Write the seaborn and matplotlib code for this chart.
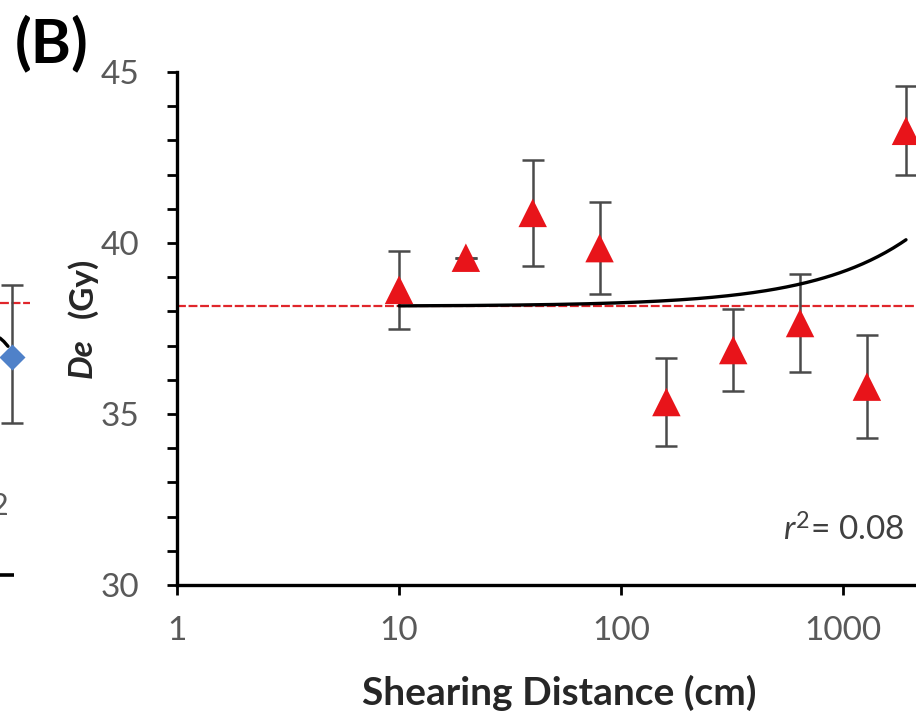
import numpy as np
import pandas as pd
import matplotlib
matplotlib.use("Agg")
import matplotlib.pyplot as plt
import seaborn as sns

# ---------------- data ----------------
distance = [10, 20, 40, 80, 160, 320, 640, 1280, 1920]          # shearing distance (cm)
de_values = [38.63, 39.57, 40.88, 39.85, 35.35, 36.87, 37.66, 35.80, 43.28]  # De (Gy)
de_err = [1.15, 0.0, 1.55, 1.35, 1.30, 1.20, 1.43, 1.50, 1.30]   # error (Gy)
given_dose = 38.15                                               # red reference line
r2_text = "0.08"
x_ticks = [1, 10, 100, 1000]
x_tick_labels = ["1", "10", "100", "1000"]
y_ticks = [30, 35, 40, 45]

# partial neighbouring panel (A) visible at the left edge
a_value = [36.67]
a_err_low = [1.93]
a_err_high = [2.10]
a_line = 38.25
a_curve_x = [0.0, 0.12, 0.25]
a_curve_y = [37.22, 37.12, 36.98]

# ---------------- style ----------------
sns.set_theme(style="white")
plt.rcParams["font.family"] = ["Lato", "DejaVu Sans"]
plt.rcParams["mathtext.fontset"] = "custom"
plt.rcParams["mathtext.rm"] = "Lato"
plt.rcParams["mathtext.it"] = "Lato:italic"

W, H = 916, 717
fig = plt.figure(figsize=(W / 100, H / 100), dpi=100)
fig.patch.set_facecolor("white")

left_px, right_px, top_px, bottom_px = 177, 916, 72, 585
ax = fig.add_axes([left_px / W, 1 - bottom_px / H, (right_px - left_px) / W, (bottom_px - top_px) / H])
ax.set_facecolor("white")

df = pd.DataFrame({"distance": distance, "De": de_values, "err": de_err})

# error bars (behind markers)
ax.errorbar(df["distance"], df["De"], yerr=df["err"], fmt="none", ecolor="#4a4a4a",
            elinewidth=1.8, capsize=8, capthick=1.8, zorder=2)

# red dashed reference line
ax.axhline(given_dose, color="#e0262b", lw=1.6, ls=(0, (4, 1.2)), zorder=1)

# linear trend line (fit on linear distance, drawn on log axis)
slope, intercept = np.polyfit(df["distance"], df["De"], 1)
fit_x = np.logspace(np.log10(min(distance)), np.log10(max(distance)), 200)
fit_df = pd.DataFrame({"distance": fit_x, "fit": intercept + slope * fit_x})
sns.lineplot(data=fit_df, x="distance", y="fit", ax=ax, color="black", lw=2.4, zorder=3)

# triangles
sns.scatterplot(data=df, x="distance", y="De", ax=ax, marker="^", s=420, color="#e8141a",
                edgecolor="none", linewidth=0, zorder=4)

ax.set_xscale("log")
ax.set_xlim(1, 2130)
ax.set_ylim(30, 45)
ax.set_xticks(x_ticks)
ax.set_xticklabels(x_tick_labels)
ax.xaxis.set_minor_locator(matplotlib.ticker.NullLocator())
ax.set_yticks(y_ticks)
ax.yaxis.set_minor_locator(matplotlib.ticker.MultipleLocator(1))
ax.set_xlabel("")
ax.set_ylabel("")

for s in ["top", "right"]:
    ax.spines[s].set_visible(False)
for s in ["left", "bottom"]:
    ax.spines[s].set_color("black")
    ax.spines[s].set_linewidth(2.4)

ax.tick_params(axis="both", which="both", direction="out", color="black", width=2.0,
               length=7, labelcolor="#595959", labelsize=24)
ax.tick_params(axis="y", which="major", pad=20)
ax.tick_params(axis="x", which="major", pad=15)
ax.tick_params(left=True, bottom=True, which="both")
ax.tick_params(axis="x", which="minor", bottom=False)

# labels
fig.text(559 / W, 1 - 693 / H, "Shearing Distance (cm)", ha="center", va="center",
         fontsize=28, fontweight="bold", color="#262626")
fig.text(82 / W, 1 - 288 / H, "(Gy)", rotation=90, ha="center", va="center",
         fontsize=24, fontweight="bold", color="#262626")
fig.text(82 / W, 1 - 358 / H, "De", rotation=90, ha="center", va="center",
         fontsize=24, fontweight="bold", style="italic", color="#262626")
fig.text(15 / W, 1 - 43 / H, "(B)", ha="left", va="center", fontsize=44,
         fontweight="bold", color="black")
fig.text(905 / W, 1 - 530 / H, r"$r^{2}$= " + r2_text, ha="right", va="center",
         fontsize=24, color="#404040")

# ---- partial panel A at the left edge ----
axa = fig.add_axes([0, 1 - bottom_px / H, 32 / W, (bottom_px - top_px) / H])
axa.set_xlim(0, 1)
axa.set_ylim(30, 45)
axa.axis("off")
axa.plot([0, 0.95], [a_line, a_line], color="#e0262b", lw=1.6, ls=(0, (4, 1.2)), zorder=1)
axa.errorbar([0.375], a_value, yerr=[a_err_low, a_err_high], fmt="none", ecolor="#4a4a4a",
             elinewidth=1.8, capsize=8, capthick=1.8, zorder=2)
axa.plot(a_curve_x, a_curve_y, color="black", lw=2.4, zorder=3)
axa.plot([0.375], a_value, marker="D", ms=13, color="#4f81c9", mec="none", zorder=4)
axa.text(0.27, 32.3, "2", ha="right", va="center", fontsize=22, color="#595959")
axa.plot([0, 0.45], [30.3, 30.3], color="black", lw=2.6, solid_capstyle="butt")

fig.savefig("out.png", dpi=100, facecolor="white")
